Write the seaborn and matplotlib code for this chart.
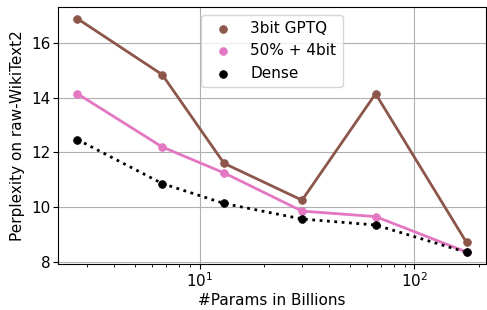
import matplotlib
matplotlib.use("Agg")
import matplotlib.pyplot as plt
import seaborn as sns
import pandas as pd

# model sizes (billions of params)
params = [2.7, 6.7, 13, 30, 66, 175]
gptq_3bit = [16.9, 14.85, 11.6, 10.25, 14.15, 8.7]
sparse_4bit = [14.15, 12.2, 11.25, 9.85, 9.65, 8.35]
dense = [12.47, 10.86, 10.13, 9.56, 9.34, 8.34]

series = ["3bit GPTQ", "50% + 4bit", "Dense"]
colors = ["#8c564b", "#e377c2", "black"]

df = pd.DataFrame({
    "params": params * 3,
    "ppl": gptq_3bit + sparse_4bit + dense,
    "method": sum([[s] * len(params) for s in series], []),
})

sns.set_style("ticks", {"axes.grid": True, "grid.color": "#b0b0b0",
                        "axes.edgecolor": "black", "text.color": "black",
                        "axes.labelcolor": "black", "xtick.color": "black",
                        "ytick.color": "black"})
plt.rcParams["font.family"] = ["DejaVu Sans"]

fig, ax = plt.subplots(figsize=(4.87, 3.10), dpi=100)
fig.subplots_adjust(left=58/487, right=486/487, top=1-7/310, bottom=1-264/310)

for s, c in zip(series, colors):
    d = df[df["method"] == s]
    sns.lineplot(data=d, x="params", y="ppl", color=c, lw=2,
                 linestyle=":" if s == "Dense" else "-", ax=ax, legend=False)
    sns.scatterplot(data=d, x="params", y="ppl", color=c, s=32,
                    edgecolor=None, label=s, ax=ax, zorder=3)

ax.set_xscale("log")
ax.set_xlabel("#Params in Billions", fontsize=11, labelpad=2)
ax.set_ylabel("Perplexity on raw-WikiText2", fontsize=11, labelpad=4)
ax.tick_params(labelsize=11, pad=2)
ax.set_yticks([8, 10, 12, 14, 16])
ax.legend(loc="upper center", fontsize=11)

fig.savefig("out.png", dpi=100)
